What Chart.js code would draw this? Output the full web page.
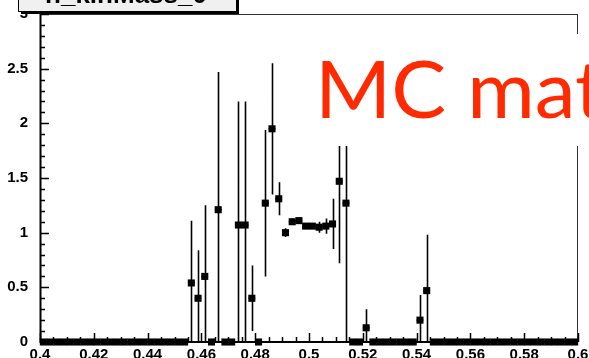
<!DOCTYPE html>
<html>
<head>
<meta charset="utf-8">
<script src="https://cdn.jsdelivr.net/npm/chart.js@4/dist/chart.umd.min.js"></script>
<style>
  html, body { margin: 0; padding: 0; background: #fff; }
  #wrap { position: relative; width: 589px; height: 358px; }
  canvas { display: block; }
</style>
</head>
<body>
<div id="wrap"><canvas id="c" width="589" height="358"></canvas></div>
<script>
// h_kinMass_0 : 80 bins between 0.40 and 0.60
const binCenters = [
  0.40125, 0.40375, 0.40625, 0.40875, 0.41125, 0.41375, 0.41625, 0.41875,
  0.42125, 0.42375, 0.42625, 0.42875, 0.43125, 0.43375, 0.43625, 0.43875,
  0.44125, 0.44375, 0.44625, 0.44875, 0.45125, 0.45375, 0.45625, 0.45875,
  0.46125, 0.46375, 0.46625, 0.46875, 0.47125, 0.47375, 0.47625, 0.47875,
  0.48125, 0.48375, 0.48625, 0.48875, 0.49125, 0.49375, 0.49625, 0.49875,
  0.50125, 0.50375, 0.50625, 0.50875, 0.51125, 0.51375, 0.51625, 0.51875,
  0.52125, 0.52375, 0.52625, 0.52875, 0.53125, 0.53375, 0.53625, 0.53875,
  0.54125, 0.54375, 0.54625, 0.54875, 0.55125, 0.55375, 0.55625, 0.55875,
  0.56125, 0.56375, 0.56625, 0.56875, 0.57125, 0.57375, 0.57625, 0.57875,
  0.58125, 0.58375, 0.58625, 0.58875, 0.59125, 0.59375, 0.59625, 0.59875
];
const binContents = [
  0, 0, 0, 0, 0, 0, 0, 0,
  0, 0, 0, 0, 0, 0, 0, 0,
  0, 0, 0, 0, 0, 0, 0.54, 0.40,
  0.60, 0, 1.21, 0, 0, 1.07, 1.07, 0.40,
  0, 1.27, 1.95, 1.31, 1.00, 1.10, 1.11, 1.06,
  1.06, 1.05, 1.06, 1.08, 1.47, 1.27, 0, 0,
  0.13, 0, 0, 0, 0, 0, 0, 0,
  0.20, 0.47, 0, 0, 0, 0, 0, 0,
  0, 0, 0, 0, 0, 0, 0, 0,
  0, 0, 0, 0, 0, 0, 0, 0
];
const binErrors = [
  0, 0, 0, 0, 0, 0, 0, 0,
  0, 0, 0, 0, 0, 0, 0, 0,
  0, 0, 0, 0, 0, 0, 0.57, 0.44,
  0.65, 0, 1.26, 0, 0, 1.13, 1.13, 0.30,
  0, 0.67, 0.60, 0.15, 0.04, 0.03, 0.03, 0.02,
  0.02, 0.05, 0.07, 0.23, 0.75, 1.35, 0, 0,
  0.17, 0, 0, 0, 0, 0, 0, 0,
  0.23, 0.51, 0, 0, 0, 0, 0, 0,
  0, 0, 0, 0, 0, 0, 0, 0,
  0, 0, 0, 0, 0, 0, 0, 0
];
const xTickLabels = ['0.4', '0.42', '0.44', '0.46', '0.48', '0.5', '0.52', '0.54', '0.56', '0.58', '0.6'];
const yTickLabels = ['0', '0.5', '1', '1.5', '2', '2.5', '3'];
const histTitle = 'h_kinMass_0';
const noteText = 'MC mat';

const points = binCenters.map((x, i) => ({ x: x, y: binContents[i] }));
const HALF_BIN = 0.00125;

const labelFont = { family: "'Liberation Sans', Arial, sans-serif", size: 15, weight: 'bold' };

// ROOT-style frame, inward ticks, error bars, title box and annotation
const rootStyle = {
  id: 'rootStyle',
  beforeDatasetsDraw(chart) {
    const { ctx, chartArea: a, scales: { x, y } } = chart;
    ctx.save();
    ctx.beginPath();
    ctx.rect(a.left, a.top, a.right - a.left, a.bottom - a.top);
    ctx.clip();
    ctx.strokeStyle = '#000';
    ctx.lineWidth = 1.6;
    ctx.beginPath();
    binCenters.forEach((c, i) => {
      const e = binErrors[i];
      const v = binContents[i];
      const px = Math.round(x.getPixelForValue(c)) + 0.5;
      if (e > 0) {
        ctx.moveTo(px, y.getPixelForValue(v - e));
        ctx.lineTo(px, y.getPixelForValue(v + e));
      }
      const py = y.getPixelForValue(v);
      ctx.moveTo(x.getPixelForValue(c - HALF_BIN), py);
      ctx.lineTo(x.getPixelForValue(c + HALF_BIN), py);
    });
    ctx.stroke();
    ctx.restore();

    // frame
    ctx.save();
    ctx.strokeStyle = '#333';
    ctx.lineWidth = 1;
    ctx.strokeRect(a.left + 0.5, a.top + 0.5, a.right - a.left - 1, a.bottom - a.top);
    ctx.strokeStyle = '#000';
    ctx.lineWidth = 1.5;
    ctx.beginPath();
    // y ticks every 0.1, long at every 0.5
    for (let k = 0; k <= 30; k++) {
      const py = Math.round(y.getPixelForValue(k / 10)) + 0.5;
      const len = (k % 5 === 0) ? 9 : 5;
      ctx.moveTo(a.left, py);
      ctx.lineTo(a.left + len, py);
    }
    // x ticks every 0.005, long at every 0.02
    for (let k = 0; k <= 40; k++) {
      const px = Math.round(x.getPixelForValue(0.4 + k * 0.005)) + 0.5;
      const len = (k % 4 === 0) ? 9 : 5;
      ctx.moveTo(px, a.bottom);
      ctx.lineTo(px, a.bottom - len);
    }
    ctx.stroke();
    ctx.beginPath();
    ctx.lineWidth = 2;
    ctx.moveTo(a.left + 0.5, a.top);
    ctx.lineTo(a.left + 0.5, a.bottom);
    ctx.lineTo(a.right, a.bottom);
    ctx.stroke();
    ctx.restore();
  },
  afterDraw(chart) {
    const { ctx } = chart;
    ctx.save();
    // histogram title box (shadowed), cut at the top edge
    ctx.fillStyle = '#000';
    ctx.fillRect(21, 11, 218, 3);
    ctx.fillRect(236, -2, 3, 16);
    ctx.fillStyle = '#f0f0f0';
    ctx.fillRect(18, -2, 218, 14);
    ctx.strokeStyle = '#000';
    ctx.lineWidth = 1;
    ctx.strokeRect(18.5, -2, 218, 13.5);
    ctx.fillStyle = '#000';
    ctx.font = "bold 26px 'Liberation Sans', Arial, sans-serif";
    ctx.textAlign = 'center';
    ctx.textBaseline = 'alphabetic';
    ctx.fillText(histTitle, 126, 3);

    // annotation text box
    ctx.fillStyle = '#fff';
    ctx.fillRect(300, 34, 289, 112);
    ctx.fillStyle = '#ff2a00';
    ctx.font = "79px Lato, 'Open Sans', sans-serif";
    ctx.textAlign = 'left';
    ctx.translate(315, 118);
    ctx.scale(1.04, 1);
    ctx.fillText(noteText, 0, 0);
    ctx.restore();
  }
};

new Chart(document.getElementById('c'), {
  type: 'scatter',
  data: {
    datasets: [{
      data: points,
      pointStyle: 'rect',
      pointRadius: 5,
      pointHoverRadius: 5,
      backgroundColor: '#000',
      borderColor: '#000',
      borderWidth: 0,
      clip: false
    }]
  },
  options: {
    responsive: false,
    animation: false,
    events: [],
    layout: { padding: { left: 0, right: 11, top: 14, bottom: 0 } },
    plugins: { legend: { display: false }, tooltip: { enabled: false } },
    scales: {
      x: {
        type: 'linear', min: 0.4, max: 0.6,
        grid: { display: false }, border: { display: false },
        ticks: {
          stepSize: 0.02, autoSkip: false, maxRotation: 0, padding: -4,
          color: '#000', font: labelFont,
          callback: (v, i) => xTickLabels[i]
        },
        afterFit: s => { s.height = 16; s.paddingLeft = 0; s.paddingRight = 0; }
      },
      y: {
        min: 0, max: 3,
        grid: { display: false }, border: { display: false },
        ticks: {
          stepSize: 0.5, autoSkip: false, padding: 4,
          color: '#000', font: labelFont,
          callback: (v, i) => yTickLabels[i]
        },
        afterFit: s => { s.width = 40; s.paddingTop = 0; s.paddingBottom = 0; }
      }
    }
  },
  plugins: [rootStyle]
});
</script>
</body>
</html>
